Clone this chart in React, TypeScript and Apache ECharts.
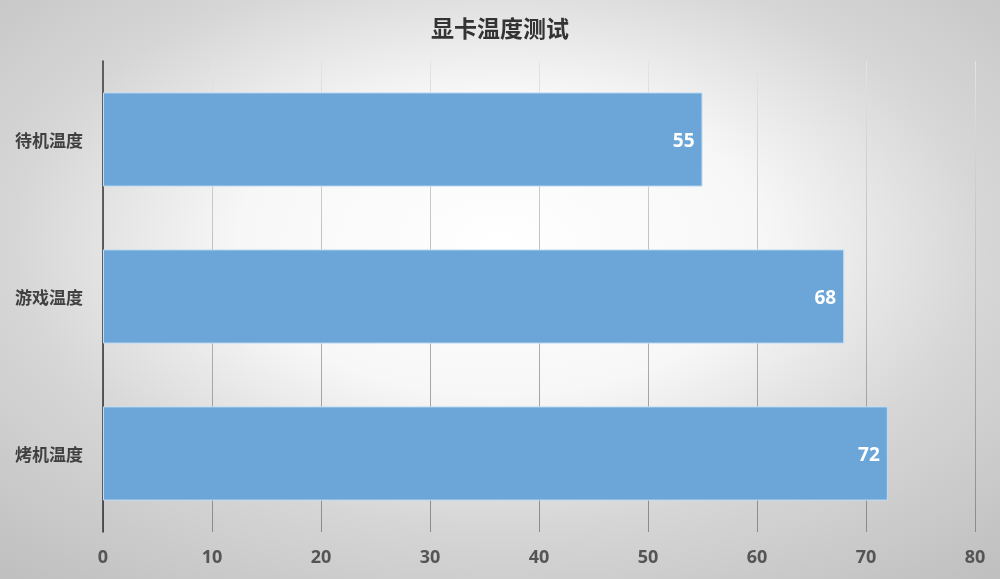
import React, { useEffect, useRef } from "react";
import * as echarts from "echarts";

const categories = ["待机温度", "游戏温度", "烤机温度"];
const temps = [55, 68, 72];
const titleText = "显卡温度测试";

export default function App() {
  const ref = useRef<HTMLDivElement>(null);
  useEffect(() => {
    const chart = echarts.init(ref.current!, null, { renderer: "svg" });
    chart.setOption({
      animation: false,
      backgroundColor: {
        type: "radial",
        x: 0.5,
        y: 0.42,
        r: 0.75,
        colorStops: [
          { offset: 0, color: "#ffffff" },
          { offset: 0.35, color: "#f7f7f7" },
          { offset: 0.65, color: "#d6d6d6" },
          { offset: 1, color: "#c0c0c0" },
        ],
      },
      title: {
        text: titleText,
        left: "center",
        top: 10,
        textStyle: {
          fontFamily: "Noto Sans CJK SC",
          fontWeight: "bold",
          fontSize: 23,
          color: "#333333",
        },
      },
      grid: { left: 103, right: 25, top: 61, bottom: 47, containLabel: false },
      xAxis: {
        type: "value",
        min: 0,
        max: 80,
        interval: 10,
        axisLine: { show: false },
        axisTick: { show: false },
        axisLabel: {
          margin: 15,
          fontFamily: "Open Sans",
          fontWeight: "bold",
          fontSize: 18,
          color: "#555555",
        },
        splitLine: {
          show: true,
          lineStyle: {
            width: 1,
            color: {
              type: "linear",
              x: 0,
              y: 61,
              x2: 0,
              y2: 532,
              global: true,
              colorStops: [
                { offset: 0, color: "#e4e4e4" },
                { offset: 1, color: "#8a8a8a" },
              ],
            },
          },
        },
      },
      yAxis: {
        type: "category",
        data: categories,
        inverse: true,
        axisLine: { show: true, lineStyle: { color: "#333333", width: 1.5 } },
        axisTick: { show: false },
        axisLabel: {
          margin: 20,
          fontFamily: "Noto Sans CJK SC",
          fontWeight: "bold",
          fontSize: 17,
          color: "#404040",
        },
      },
      series: [
        {
          type: "bar",
          data: temps,
          barCategoryGap: "40%",
          itemStyle: {
            color: "#6ca6d9",
            borderColor: "#c2dcf2",
            borderWidth: 1,
          },
          label: {
            show: true,
            position: "insideRight",
            distance: 8,
            fontFamily: "Open Sans",
            fontWeight: "bold",
            fontSize: 19,
            color: "#ffffff",
          },
        },
      ],
    });
    return () => chart.dispose();
  }, []);
  return (
    <div
      ref={ref}
      style={{ position: "fixed", left: 0, top: 0, width: 1000, height: 579 }}
    />
  );
}
